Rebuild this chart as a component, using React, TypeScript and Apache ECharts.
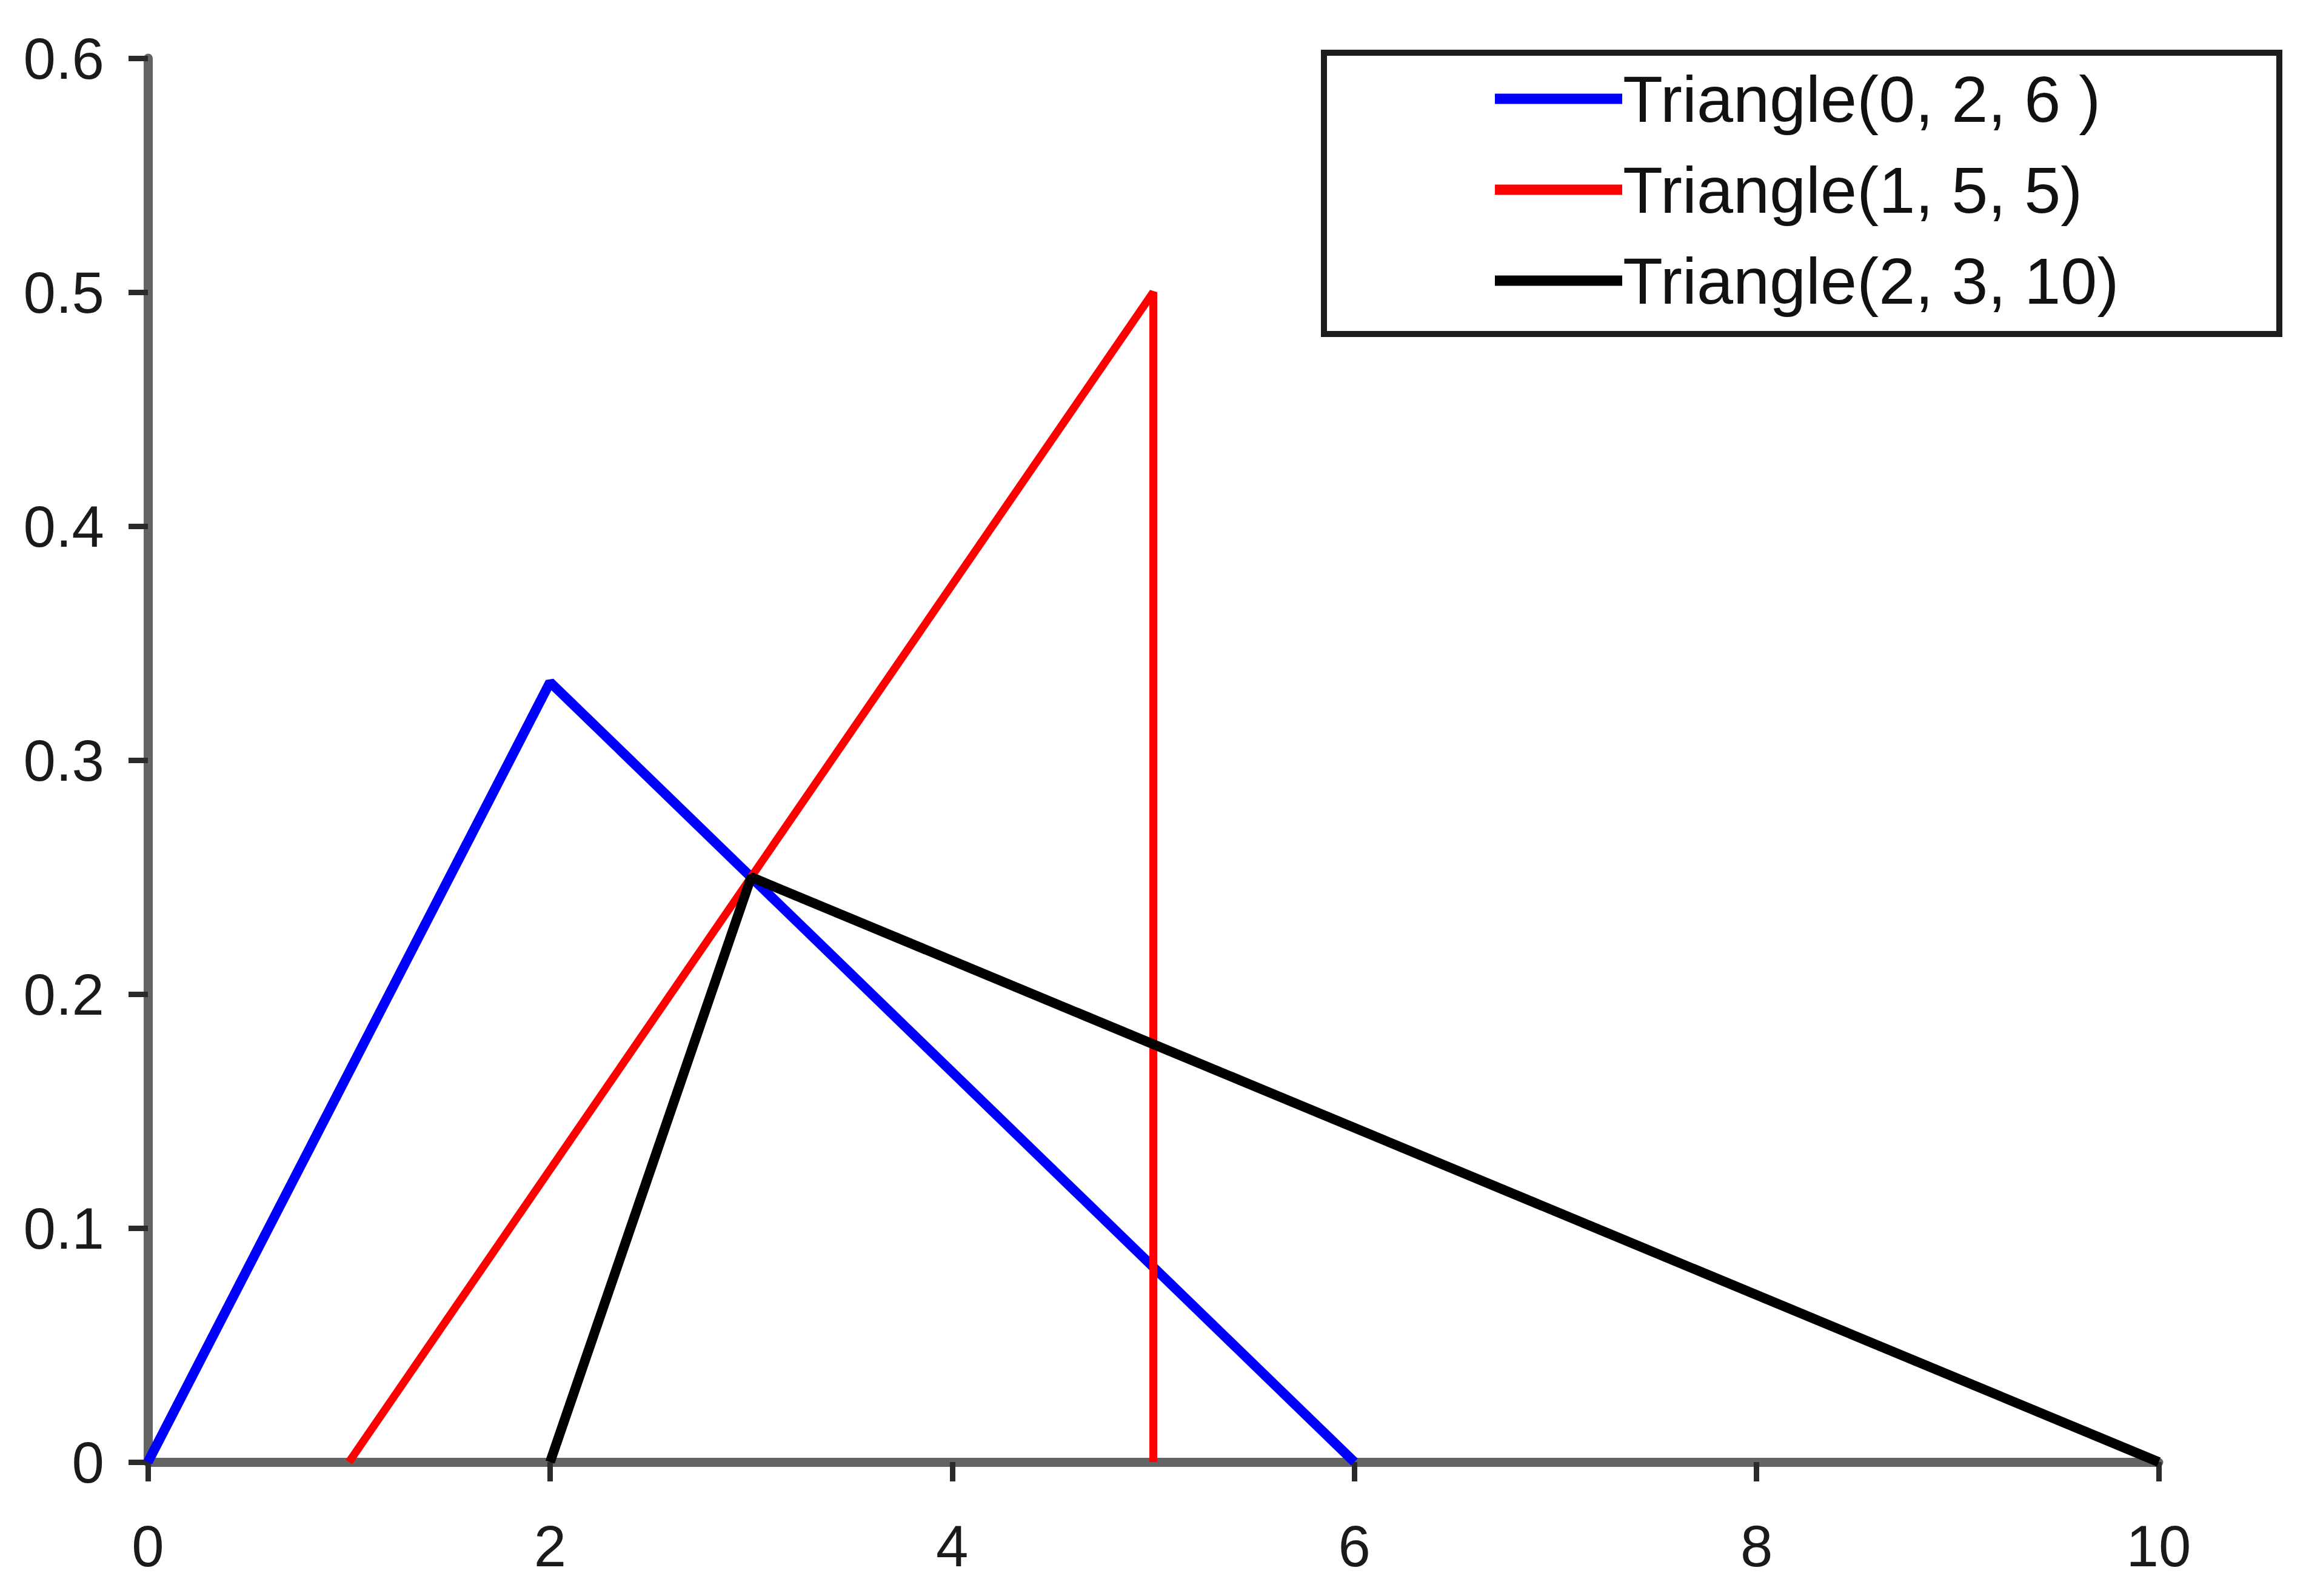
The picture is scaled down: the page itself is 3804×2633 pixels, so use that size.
import React, { useEffect, useRef } from "react";
import * as echarts from "echarts";

const seriesNames = ["Triangle(0, 2, 6 )", "Triangle(1, 5, 5)", "Triangle(2, 3, 10)"];
const seriesColors = ["#0000ff", "#ff0000", "#000000"];
const blueX = [0, 2, 6];
const blueY = [0, 0.3333, 0];
const redX = [1, 5, 5];
const redY = [0, 0.5, 0];
const blackX = [2, 3, 10];
const blackY = [0, 0.25, 0];
const xTicks = [0, 2, 4, 6, 8, 10];
const yTicks = [0, 0.1, 0.2, 0.3, 0.4, 0.5, 0.6];

const FONT = "'Liberation Sans', Arial, sans-serif";

function pairs(xs: number[], ys: number[]) {
  return xs.map((x, i) => [x, ys[i]]);
}

export default function App() {
  const ref = useRef<HTMLDivElement>(null);
  useEffect(() => {
    if (!ref.current) return;
    const chart = echarts.init(ref.current, undefined, { renderer: "svg" });
    const xs = [blueX, redX, blackX];
    const ys = [blueY, redY, blackY];
    const widths = [16, 13, 16];
    chart.setOption({
      animation: false,
      backgroundColor: "#ffffff",
      grid: { left: 244, right: 243, top: 96, bottom: 221, containLabel: false },
      xAxis: {
        type: "value",
        min: xTicks[0],
        max: xTicks[xTicks.length - 1],
        interval: 2,
        splitLine: { show: false },
        axisLine: { show: true, onZero: false, lineStyle: { color: "#646464", width: 15 } },
        axisTick: { show: true, inside: false, length: 32, lineStyle: { color: "#2a2a2a", width: 9 } },
        axisLabel: {
          margin: 90,
          fontSize: 96,
          color: "#1a1a1a",
          fontFamily: FONT,
          verticalAlign: "top",
          formatter: (v: number) => (xTicks.includes(v) ? String(v) : ""),
        },
      },
      yAxis: {
        type: "value",
        min: yTicks[0],
        max: yTicks[yTicks.length - 1],
        interval: 0.1,
        splitLine: { show: false },
        axisLine: { show: true, lineStyle: { color: "#646464", width: 15 } },
        axisTick: { show: true, inside: false, length: 32, lineStyle: { color: "#2a2a2a", width: 9 } },
        axisLabel: {
          margin: 72,
          fontSize: 96,
          color: "#1a1a1a",
          fontFamily: FONT,
          formatter: (v: number) => {
            const r = Math.round(v * 10) / 10;
            return r === 0 ? "0" : String(r);
          },
        },
      },
      legend: {
        show: true,
        orient: "vertical",
        left: 2466,
        top: 109,
        padding: 0,
        itemGap: 42,
        itemWidth: 210,
        itemHeight: 17,
        icon: "rect",
        z: 10,
        textStyle: { fontSize: 108, lineHeight: 108, color: "#111", fontFamily: FONT, padding: [0, 0, 0, -4] },
        data: seriesNames,
      },
      graphic: [
        {
          type: "rect",
          z: 1,
          shape: { x: 2184, y: 87, width: 1576, height: 464 },
          style: { fill: "#ffffff", stroke: "#1c1c1c", lineWidth: 10 },
        },
      ],
      series: seriesNames.map((name, i) => ({
        name,
        type: "line",
        data: pairs(xs[i], ys[i]),
        showSymbol: false,
        symbol: "none",
        color: seriesColors[i],
        lineStyle: { color: seriesColors[i], width: widths[i] },
        z: 3,
      })),
    });
    return () => chart.dispose();
  }, []);
  return (
    <div
      ref={ref}
      style={{ position: "fixed", left: 0, top: 0, width: 3804, height: 2633, background: "#fff" }}
    />
  );
}
